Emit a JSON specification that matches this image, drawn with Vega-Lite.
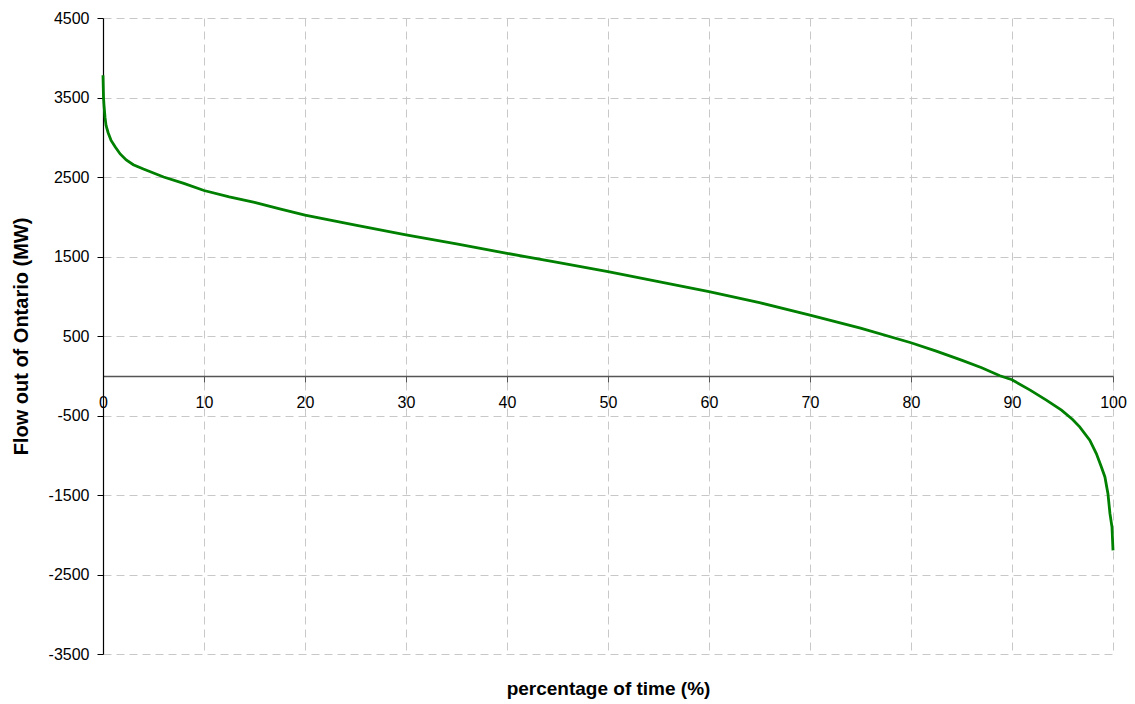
{
  "$schema": "https://vega.github.io/schema/vega-lite/v6.json",
  "width": 1010,
  "height": 636,
  "autosize": {"type": "none"},
  "padding": {"left": 103, "top": 18, "right": 22, "bottom": 50},
  "background": "white",
  "config": {
    "view": {"stroke": null},
    "font": "Liberation Sans"
  },
  "data": {
    "values": [
      {"pct": 0, "flow": 3780},
      {"pct": 0.05, "flow": 3500},
      {"pct": 0.1, "flow": 3400},
      {"pct": 0.2, "flow": 3250},
      {"pct": 0.3, "flow": 3150},
      {"pct": 0.5, "flow": 3060},
      {"pct": 0.8, "flow": 2960},
      {"pct": 1.2, "flow": 2880},
      {"pct": 1.7, "flow": 2790},
      {"pct": 2.3, "flow": 2715},
      {"pct": 3, "flow": 2655},
      {"pct": 4, "flow": 2600},
      {"pct": 5, "flow": 2550},
      {"pct": 6, "flow": 2500},
      {"pct": 8, "flow": 2420},
      {"pct": 10, "flow": 2330},
      {"pct": 12.5, "flow": 2250},
      {"pct": 15, "flow": 2180},
      {"pct": 17.5, "flow": 2100},
      {"pct": 20, "flow": 2020},
      {"pct": 25, "flow": 1895},
      {"pct": 30, "flow": 1771},
      {"pct": 35, "flow": 1660},
      {"pct": 40, "flow": 1540},
      {"pct": 45, "flow": 1425},
      {"pct": 50, "flow": 1309},
      {"pct": 55, "flow": 1185},
      {"pct": 60, "flow": 1057},
      {"pct": 65, "flow": 920},
      {"pct": 70, "flow": 763},
      {"pct": 75, "flow": 600},
      {"pct": 80, "flow": 415},
      {"pct": 82.5, "flow": 310},
      {"pct": 85, "flow": 196},
      {"pct": 87, "flow": 100},
      {"pct": 88.8, "flow": 0},
      {"pct": 90, "flow": -50},
      {"pct": 91.8, "flow": -181},
      {"pct": 93.4, "flow": -307},
      {"pct": 94.9, "flow": -433},
      {"pct": 96, "flow": -550},
      {"pct": 96.7, "flow": -643},
      {"pct": 97.7, "flow": -811},
      {"pct": 98.35, "flow": -979},
      {"pct": 98.85, "flow": -1147},
      {"pct": 99.2, "flow": -1273},
      {"pct": 99.5, "flow": -1483},
      {"pct": 99.7, "flow": -1735},
      {"pct": 99.9, "flow": -1903},
      {"pct": 100, "flow": -2197}
    ]
  },
  "mark": {"type": "line", "color": "#008000", "strokeWidth": 2.8, "clip": false},
  "encoding": {
    "x": {
      "field": "pct",
      "type": "quantitative",
      "scale": {"domain": [0, 100], "nice": false, "zero": false},
      "axis": {
        "title": "percentage of time (%)",
        "titleFont": "Liberation Sans",
        "titleFontSize": 19,
        "titleFontWeight": "bold",
        "titleColor": "black",
        "titleBaseline": "alphabetic",
        "titleX": 505,
        "titleY": 318,
        "titleAnchor": "middle",
        "offset": -278,
        "values": [0, 10, 20, 30, 40, 50, 60, 70, 80, 90, 100],
        "labelExpr": "'' + datum.value",
        "labelFont": "Liberation Sans",
        "labelFontSize": 16,
        "labelColor": "black",
        "labelFlush": false,
        "labelOverlap": false,
        "labelPadding": 12,
        "tickSize": 6,
        "tickColor": "#555555",
        "domainColor": "#555555",
        "domainWidth": 1.5,
        "grid": true,
        "gridColor": "#c8c8c8",
        "gridDash": [8, 5],
        "gridWidth": 1
      }
    },
    "y": {
      "field": "flow",
      "type": "quantitative",
      "scale": {"domain": [-3500, 4500], "nice": false, "zero": false},
      "axis": {
        "title": "Flow out of Ontario (MW)",
        "titleFont": "Liberation Sans",
        "titleFontSize": 20,
        "titleFontWeight": "bold",
        "titleColor": "black",
        "titleBaseline": "alphabetic",
        "titleX": -76,
        "titleY": 318,
        "titleAngle": -90,
        "titleAnchor": "middle",
        "values": [-3500, -2500, -1500, -500, 500, 1500, 2500, 3500, 4500],
        "labelExpr": "'' + datum.value",
        "labelFont": "Liberation Sans",
        "labelFontSize": 16,
        "labelColor": "black",
        "labelFlush": false,
        "labelOverlap": false,
        "labelPadding": 8,
        "tickSize": 6,
        "tickColor": "black",
        "domainColor": "black",
        "domainWidth": 1.2,
        "grid": true,
        "gridColor": "#c8c8c8",
        "gridDash": [8, 5],
        "gridWidth": 1
      }
    }
  }
}
